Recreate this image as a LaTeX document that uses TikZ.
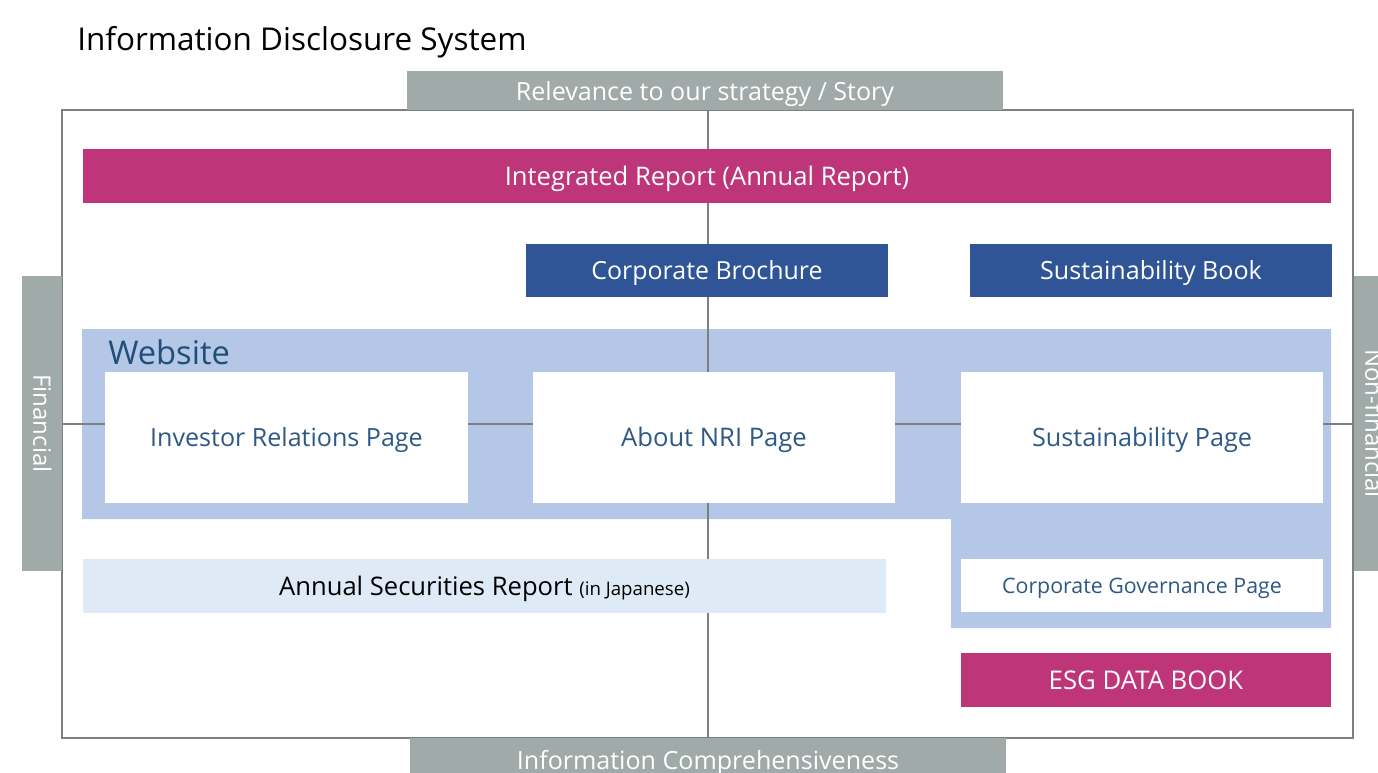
\documentclass[tikz,border=0pt]{standalone}
\usepackage{fontspec}
\setmainfont{Open Sans}
\definecolor{labgray}{RGB}{160,170,168}
\definecolor{linegray}{RGB}{127,127,127}
\definecolor{magent}{RGB}{190,54,121}
\definecolor{darkblue}{RGB}{47,85,151}
\definecolor{webblue}{RGB}{180,199,231}
\definecolor{paleblue}{RGB}{222,235,247}
\definecolor{txtblue}{RGB}{46,88,134}
\definecolor{webtxt}{RGB}{31,78,121}
\tikzset{
  sz/.style 2 args={minimum width=#1*0.75pt, minimum height=#2*0.75pt, inner sep=0pt, outer sep=0pt, text height=13.5pt, text depth=0pt},
  lab/.style={fill=labgray, text=white, font=\fontsize{18.8pt}{22pt}\selectfont},
  solid box/.style={text=white, font=\fontsize{18.8pt}{22pt}\selectfont},
  page/.style={fill=white, text=txtblue, font=\fontsize{18.9pt}{22pt}\selectfont},
  axis/.style={draw=linegray, line width=1.5pt}
}
\begin{document}
\begin{tikzpicture}[x=0.75pt, y=-0.75pt]
\useasboundingbox (0,0) rectangle (1378,772);
\clip (0,0) rectangle (1378,772);
% title
\node[anchor=base west, inner sep=0pt, font=\fontsize{23.6pt}{27pt}\selectfont] (title) at (77,50) {Information Disclosure System};
% website region
\fill[webblue] (82,329) -- (1331,329) -- (1331,628) -- (951,628) -- (951,519) -- (82,519) -- cycle;
\node[anchor=base west, inner sep=0pt, text=webtxt, font=\fontsize{24.5pt}{28pt}\selectfont] (web) at (108,364) {Website};
% frame and axes
\coordinate (tl) at (62,110);
\coordinate (br) at (1353,738);
\coordinate (vt) at (708,110);
\coordinate (vb) at (708,738);
\coordinate (hl) at (62,424);
\coordinate (hr) at (1353,424);
\draw[axis] (tl) rectangle (br);
\draw[axis] (vt) -- (vb);
\draw[axis] (hl) -- (hr);
% axis labels
\node[lab, sz={596}{39}, text height=15pt] (top) at (705,90.5) {Relevance to our strategy / Story};
\node[lab, sz={596}{44}] (bot) at (708,760) {Information Comprehensiveness};
\node[lab, sz={295}{40}, rotate=-90, font=\fontsize{18pt}{22pt}\selectfont, text height=12.9pt] (fin) at (42,423.5) {Financial};
\node[lab, sz={295}{40}, rotate=-90, font=\fontsize{18pt}{22pt}\selectfont, text height=12.9pt] (nonfin) at (1374,423.5) {Non-financial};
% boxes
\node[solid box, fill=magent, sz={1248}{54}, font=\fontsize{19.2pt}{22pt}\selectfont, text height=14pt] (ir) at (707,176) {Integrated Report (Annual Report)};
\node[solid box, fill=darkblue, sz={362}{53}, font=\fontsize{18.7pt}{22pt}\selectfont] (cb) at (707,270.5) {Corporate Brochure};
\node[solid box, fill=darkblue, sz={362}{53}] (sb) at (1151,270.5) {Sustainability Book};
\node[page, sz={363}{131}, font=\fontsize{18.8pt}{22pt}\selectfont] (inv) at (286.5,437.5) {Investor Relations Page};
\node[page, sz={362}{131}, font=\fontsize{19.2pt}{22pt}\selectfont] (about) at (714,437.5) {About NRI Page};
\node[page, sz={362}{131}] (sp) at (1142,437.5) {Sustainability Page};
\node[page, sz={362}{53}, font=\fontsize{16pt}{19pt}\selectfont, text height=11.4pt] (cg) at (1142,585.5) {Corporate Governance Page};
\node[fill=paleblue, sz={803}{54}, font=\fontsize{19.2pt}{22pt}\selectfont, text height=13.7pt] (asr) at (484.5,586) {Annual Securities Report {\fontsize{14pt}{16pt}\selectfont (in Japanese)}};
\node[solid box, fill=magent, sz={370}{54}, font=\fontsize{19.3pt}{22pt}\selectfont] (esg) at (1146,680) {ESG DATA BOOK};
\end{tikzpicture}
\end{document}
